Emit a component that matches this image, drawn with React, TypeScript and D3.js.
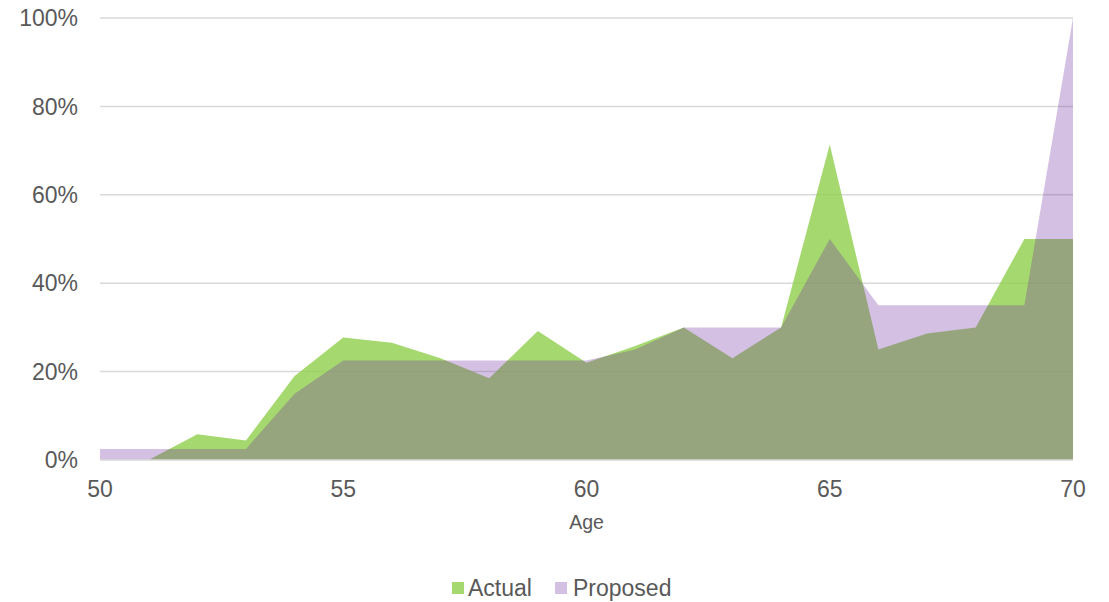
import React from "react";
import * as d3 from "d3";

// Share of people by age: actual vs proposed (percent)
const ages = [50, 51, 52, 53, 54, 55, 56, 57, 58, 59, 60, 61, 62, 63, 64, 65, 66, 67, 68, 69, 70];
const actual = [0, 0, 5.8, 4.4, 19, 27.7, 26.5, 23, 18.5, 29.2, 22, 25.8, 30, 23, 30, 71.4, 25, 28.6, 30, 50, 50];
const proposed = [2.5, 2.5, 2.5, 2.5, 15, 22.5, 22.5, 22.5, 22.5, 22.5, 22.5, 25, 30, 30, 30, 50, 35, 35, 35, 35, 100];
const yTicks = [0, 20, 40, 60, 80, 100];
const xTicks = [50, 55, 60, 65, 70];

const W = 1109;
const H = 602;
const left = 100;
const right = 1073;
const top = 18;
const bottom = 460;

const GREEN = "#92D050";
const PURPLE = "#7030A0";
const TEXT = "#595959";
const GRID = "#d9d9d9";
const FONT = "'Liberation Sans', Arial, sans-serif";

export default function App() {
  const x = d3.scaleLinear().domain([50, 70]).range([left, right]);
  const y = d3.scaleLinear().domain([0, 100]).range([bottom, top]);

  const area = d3
    .area<number>()
    .x((_, i) => x(ages[i]))
    .y0(y(0))
    .y1((d) => y(d))
    .curve(d3.curveLinear);

  return (
    <svg
      width={W}
      height={H}
      style={{ position: "absolute", left: 0, top: 0, background: "#fff" }}
      fontFamily={FONT}
    >
      {/* horizontal gridlines */}
      {yTicks
        .filter((t) => t > 0)
        .map((t) => (
          <line key={t} x1={left} x2={right} y1={y(t)} y2={y(t)} stroke={GRID} strokeWidth={1.5} />
        ))}

      {/* series areas */}
      <path d={area(actual) ?? ""} fill={GREEN} fillOpacity={0.82} />
      <path d={area(proposed) ?? ""} fill={PURPLE} fillOpacity={0.3} />

      {/* baseline */}
      <line x1={left} x2={right} y1={y(0)} y2={y(0)} stroke={GRID} strokeWidth={1.5} />

      {/* y axis labels */}
      {yTicks.map((t) => (
        <text
          key={t}
          x={78}
          y={y(t)}
          dy="0.36em"
          textAnchor="end"
          fontSize={23}
          fill={TEXT}
        >
          {`${t}%`}
        </text>
      ))}

      {/* x axis labels */}
      {xTicks.map((t) => (
        <text key={t} x={x(t)} y={497} textAnchor="middle" fontSize={23} fill={TEXT}>
          {t}
        </text>
      ))}

      <text x={(left + right) / 2} y={529} textAnchor="middle" fontSize={19.5} fill={TEXT}>
        Age
      </text>

      {/* legend */}
      <rect x={452} y={582} width={12} height={12} fill={GREEN} fillOpacity={0.82} />
      <text x={468} y={596} fontSize={23} fill={TEXT}>
        Actual
      </text>
      <rect x={555} y={582} width={12} height={12} fill={PURPLE} fillOpacity={0.3} />
      <text x={573} y={596} fontSize={23} fill={TEXT}>
        Proposed
      </text>
    </svg>
  );
}
